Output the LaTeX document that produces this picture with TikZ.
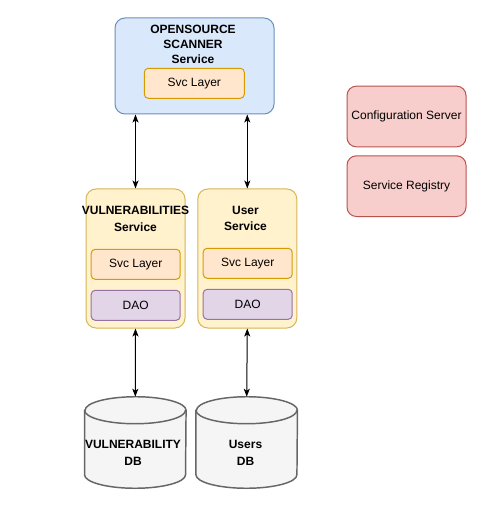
\documentclass[tikz,border=0pt]{standalone}
\usepackage{fontspec}
\setmainfont{Liberation Sans}
\usepackage{tikz}
\usetikzlibrary{
  positioning,
  arrows.meta
}
\definecolor{blueFill}{HTML}{DAE8FC}
\definecolor{blueLine}{HTML}{6C8EBF}
\definecolor{orangeFill}{HTML}{FFE6CC}
\definecolor{orangeLine}{HTML}{D79B00}
\definecolor{yellowFill}{HTML}{FFF2CC}
\definecolor{yellowLine}{HTML}{D6B656}
\definecolor{purpleFill}{HTML}{E1D5E7}
\definecolor{purpleLine}{HTML}{9673A6}
\definecolor{redFill}{HTML}{F8CECC}
\definecolor{redLine}{HTML}{B85450}
\definecolor{greyFill}{HTML}{F5F5F5}
\definecolor{greyLine}{HTML}{666666}
\tikzstyle{box}=[draw, line width=0.75pt, inner sep=0pt, font=\fontsize{9}{11}\selectfont]
\tikzstyle{scannerbox}=[box, fill=blueFill, draw=blueLine, rounded corners=7.5pt, minimum width=119.25pt, minimum height=72pt]
\tikzstyle{servicebox}=[box, fill=yellowFill, draw=yellowLine, rounded corners=7.5pt, minimum width=74.25pt, minimum height=104.25pt]
\tikzstyle{svclayer}=[box, fill=orangeFill, draw=orangeLine, rounded corners=3pt, minimum width=66.75pt, minimum height=22.5pt]
\tikzstyle{daolayer}=[box, fill=purpleFill, draw=purpleLine, rounded corners=3pt, minimum width=66.75pt, minimum height=22.5pt]
\tikzstyle{serverbox}=[box, fill=redFill, draw=redLine, rounded corners=7pt, minimum width=89.25pt, minimum height=45.5pt]
\tikzstyle{dbbox}=[inner sep=0pt, minimum width=75.75pt, minimum height=68.25pt]
\tikzstyle{dbline}=[draw=greyLine, fill=greyFill, line width=1.1pt]
\tikzstyle{titletext}=[align=center, inner sep=0pt, font=\bfseries\fontsize{9}{11.25}\selectfont]
\tikzstyle{labeltext}=[align=center, inner sep=0pt, font=\bfseries\fontsize{9}{12.6}\selectfont]
\tikzstyle{link}=[{Stealth[length=6pt,width=4.5pt,inset=1.5pt]}-{Stealth[length=6pt,width=4.5pt,inset=1.5pt]}, line width=0.75pt]

\begin{document}
\begin{tikzpicture}[x=0.75pt, y=-0.75pt]
    % 画像の範囲
    \useasboundingbox (0,0) rectangle (497,513);

    % スキャナーサービス
    \node[scannerbox] (scanner) at (194.5,66) {};
    \node[titletext] (scannertitle) at (193,44) {OPENSOURCE\\SCANNER\\Service};
    \node[svclayer, minimum width=75pt] (scannersvc) at (194.3,83.3) {Svc Layer};

    % 設定サーバとレジストリ
    \node[serverbox] (config) at (406.5,116.5) {Configuration Server};
    \node[serverbox, below=6pt of config] (registry) {Service Registry};

    % 脆弱性サービス
    \node[servicebox] (vuln) at (135.5,258.5) {};
    \node[labeltext] (vulntitle) at (135.5,218.5) {VULNERABILITIES\\Service};
    \node[svclayer] (vulnsvc) at (135.7,264.3) {Svc Layer};
    \node[daolayer, below=7.5pt of vulnsvc] (vulndao) {DAO};

    % ユーザサービス
    \node[servicebox] (user) at (247.3,258.5) {};
    \node[labeltext] (usertitle) at (245.5,218.5) {User\\Service};
    \node[svclayer] (usersvc) at (247.7,263.3) {Svc Layer};
    \node[daolayer, below=7.5pt of usersvc] (userdao) {DAO};

    % データベース
    \node[dbbox] (vulndb) at (135.3,442.5) {};
    \node[dbbox] (userdb) at (246.7,442.5) {};
    \foreach \db in {vulndb, userdb} {
      \draw[dbline] ([yshift=-10.125pt]\db.north west) -- ([yshift=10.125pt]\db.south west)
        arc[start angle=180, end angle=360, x radius=37.875pt, y radius=10.125pt]
        -- ([yshift=-10.125pt]\db.north east)
        arc[start angle=0, end angle=180, x radius=37.875pt, y radius=10.125pt] -- cycle;
      \draw[dbline, fill=none] ([yshift=-10.125pt]\db.north west)
        arc[start angle=180, end angle=360, x radius=37.875pt, y radius=10.125pt];
    }
    \node[labeltext] (vulndblabel) at (133,452.5) {VULNERABILITY\\DB};
    \node[labeltext] (userdblabel) at (245.5,452.5) {Users\\DB};

    % 矢印の描画
    \draw[link] (scanner.south -| vuln.north) -- (vuln.north);
    \draw[link] (scanner.south -| user.north) -- (user.north);
    \draw[link] (vuln.south) -- (vulndb.north);
    \draw[link] (user.south) -- (userdb.north);
\end{tikzpicture}
\end{document}
